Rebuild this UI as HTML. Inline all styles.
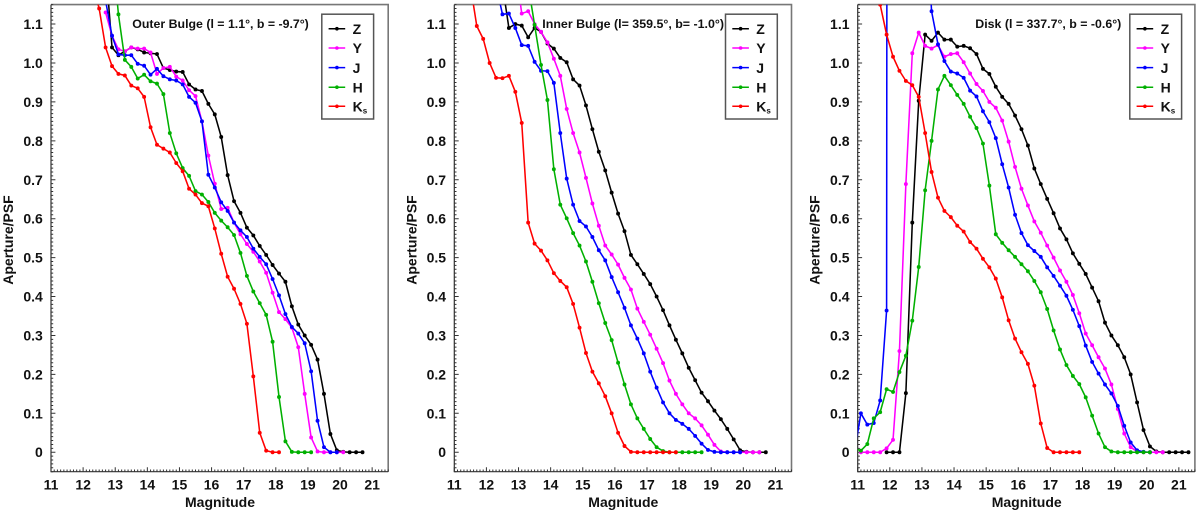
<!DOCTYPE html>
<html lang="en">
<head>
<meta charset="utf-8">
<title>Aperture/PSF vs Magnitude</title>
<style>
html,body{margin:0;padding:0;background:#fff;width:1200px;height:512px;overflow:hidden}
svg{display:block;font-family:"Liberation Sans",sans-serif;font-weight:bold;fill:#111}
</style>
</head>
<body>
<svg id="chart" xmlns="http://www.w3.org/2000/svg" width="1200" height="512" viewBox="0 0 1200 512"></svg>
<script>
var xTickLabels = [11,12,13,14,15,16,17,18,19,20,21];
var yTickValues = [0,0.1,0.2,0.3,0.4,0.5,0.6,0.7,0.8,0.9,1.0,1.1];
var yTickLabels = ['0','0.1','0.2','0.3','0.4','0.5','0.6','0.7','0.8','0.9','1.0','1.1'];
var bandNames = ['Z','Y','J','H','Ks'];
var bandColors = ['#000000','#ff00ff','#0000ff','#00b000','#ff0000'];

var panelTitles = ['Outer Bulge (l = 1.1\u00b0, b = -9.7\u00b0)','Inner Bulge (l= 359.5\u00b0, b= -1.0\u00b0)','Disk (l = 337.7\u00b0, b = -0.6\u00b0)'];

/* first magnitude of each series (bins every 0.2 mag) */
var outerStarts = [12.7,12.7,12.7,12.9,12.3];
var innerStarts = [12.5,12.9,12.3,13.3,11.5];
var diskStarts  = [11.9,11.1,10.9,10.9,11.7];

var outerZ = [1.25,1.04,1.02,1.03,1.04,1.035,1.027,1.025,1.023,0.987,0.982,0.978,0.977,0.945,0.932,0.928,0.895,0.868,0.81,0.712,0.645,0.615,0.577,0.557,0.53,0.507,0.481,0.459,0.438,0.375,0.328,0.30,0.276,0.238,0.15,0.047,0.005,0.001,0,0,0];
var outerY = [1.13,1.07,1.035,1.03,1.04,1.037,1.037,1.027,0.972,0.987,0.99,0.965,0.955,0.93,0.915,0.85,0.762,0.69,0.625,0.628,0.59,0.56,0.535,0.515,0.49,0.461,0.41,0.36,0.342,0.32,0.27,0.15,0.038,0.002,0,0,0,0];
var outerJ = [1.16,1.07,1.022,1.02,1.02,0.998,0.993,0.97,0.985,0.966,0.958,0.955,0.945,0.913,0.898,0.85,0.713,0.68,0.642,0.62,0.59,0.57,0.553,0.523,0.502,0.483,0.445,0.403,0.355,0.322,0.305,0.28,0.208,0.081,0.013,0,0];
var outerH = [1.3,1.125,1.008,0.99,0.96,0.97,0.953,0.947,0.92,0.82,0.768,0.73,0.71,0.671,0.662,0.643,0.615,0.595,0.578,0.558,0.512,0.453,0.413,0.383,0.353,0.284,0.142,0.028,0.001,0,0,0];
var outerK = [1.2,1.14,1.04,0.992,0.972,0.968,0.942,0.935,0.913,0.835,0.79,0.78,0.77,0.743,0.722,0.677,0.662,0.64,0.632,0.575,0.51,0.451,0.42,0.381,0.33,0.195,0.05,0.004,0,0];

var innerZ = [1.2,1.09,1.10,1.096,1.066,1.09,1.08,1.05,1.037,1.013,1.002,0.958,0.942,0.891,0.83,0.772,0.724,0.667,0.613,0.568,0.507,0.483,0.458,0.432,0.40,0.365,0.326,0.289,0.254,0.217,0.185,0.153,0.131,0.107,0.085,0.06,0.033,0.005,0.001,0,0,0];
var innerY = [1.25,1.127,1.133,1.10,1.08,1.053,1.011,0.967,0.882,0.82,0.77,0.705,0.639,0.582,0.531,0.508,0.482,0.448,0.418,0.369,0.335,0.302,0.266,0.229,0.184,0.15,0.123,0.10,0.087,0.069,0.045,0.019,0.002,0,0,0,0,0,0];
var innerJ = [1.2,1.125,1.127,1.09,1.046,1.044,1.003,0.98,0.979,0.949,0.82,0.703,0.636,0.594,0.58,0.553,0.519,0.493,0.45,0.411,0.371,0.326,0.292,0.254,0.207,0.166,0.128,0.10,0.083,0.073,0.06,0.042,0.022,0.006,0.001,0,0,0];
innerJ.push(0);
var innerH = [1.2,1.098,0.995,0.905,0.727,0.636,0.601,0.563,0.531,0.49,0.438,0.383,0.332,0.288,0.23,0.174,0.123,0.087,0.06,0.034,0.013,0.003,0,0,0,0,0,0];
var innerK = [1.2,1.095,1.062,1.0,0.962,0.961,0.967,0.926,0.846,0.59,0.536,0.518,0.493,0.46,0.44,0.424,0.381,0.32,0.255,0.207,0.177,0.144,0.10,0.05,0.016,0.001,0,0,0,0,0,0,0];

var diskZ = [0,0,0,0.152,0.59,0.903,1.073,1.057,1.078,1.06,1.06,1.042,1.044,1.038,1.023,0.985,0.972,0.939,0.913,0.895,0.865,0.83,0.788,0.729,0.689,0.651,0.614,0.575,0.547,0.511,0.484,0.458,0.423,0.388,0.333,0.30,0.275,0.244,0.20,0.128,0.057,0.015,0.002,0,0,0,0,0];
var diskY = [0,0,0,0,0.01,0.032,0.26,0.689,1.025,1.078,1.044,1.037,1.046,1.016,1.023,1.025,1.002,0.973,0.946,0.928,0.90,0.885,0.852,0.798,0.733,0.677,0.634,0.593,0.564,0.531,0.5,0.467,0.438,0.404,0.357,0.305,0.275,0.244,0.215,0.174,0.111,0.048,0.013,0.002,0,0,0,0];
var diskJ = [0,0.10,0.071,0.075,0.133,0.364,20,10,8,6,4,1.45,1.133,1.048,1.005,0.978,0.973,0.962,0.929,0.914,0.876,0.848,0.807,0.74,0.68,0.61,0.563,0.532,0.517,0.502,0.475,0.453,0.428,0.402,0.366,0.324,0.274,0.232,0.202,0.174,0.151,0.119,0.068,0.025,0.005,0.001,0];
var diskH = [0.01,0.004,0.021,0.087,0.103,0.162,0.155,0.206,0.248,0.338,0.476,0.673,0.80,0.932,0.967,0.943,0.918,0.895,0.862,0.833,0.793,0.685,0.56,0.538,0.519,0.502,0.483,0.465,0.44,0.411,0.368,0.313,0.264,0.224,0.196,0.175,0.141,0.094,0.048,0.013,0.002,0,0,0,0,0,0];
var diskK = [1.15,1.073,1.016,0.98,0.954,0.943,0.913,0.82,0.72,0.654,0.62,0.604,0.582,0.567,0.54,0.523,0.497,0.475,0.446,0.398,0.339,0.292,0.257,0.227,0.171,0.074,0.011,0,0,0,0,0];

var outerSeries = [outerZ,outerY,outerJ,outerH,outerK];
var innerSeries = [innerZ,innerY,innerJ,innerH,innerK];
var diskSeries  = [diskZ,diskY,diskJ,diskH,diskK];

var NS = 'http://www.w3.org/2000/svg';
var root = document.getElementById('chart');

function mk(parent, tag, attrs) {
  var el = document.createElementNS(NS, tag);
  for (var k in attrs) { el.setAttribute(k, attrs[k]); }
  parent.appendChild(el);
  return el;
}

var MAG_MIN = 11, MAG_MAX = 21.5, VAL_MIN = -0.05, VAL_MAX = 1.15;
var PLOT_TOP = 4.6, PLOT_BOTTOM = 471.7, PLOT_W = 337.2;

function drawPanel(index, left, titleX, titleLen, starts, series, legendX, panelName) {
  var right = left + PLOT_W;
  function xScale(m) { return left + (m - MAG_MIN) / (MAG_MAX - MAG_MIN) * PLOT_W; }
  function yScale(v) { return PLOT_BOTTOM - (v - VAL_MIN) / (VAL_MAX - VAL_MIN) * (PLOT_BOTTOM - PLOT_TOP); }

  var g = mk(root, 'g', {});
  
  

  var clipId = 'clip-' + index;
  var defs = mk(g, 'defs', {});
  var cp = mk(defs, 'clipPath', {id: clipId});
  mk(cp, 'rect', {x: left, y: PLOT_TOP, width: PLOT_W, height: PLOT_BOTTOM - PLOT_TOP});

  /* frame */
  var frameTR = mk(g, 'path', {d: 'M' + left + ' ' + PLOT_TOP + 'H' + right + 'V' + PLOT_BOTTOM, fill: 'none', stroke: '#777', 'stroke-width': 1.6});
  
  
  var frameLB = mk(g, 'path', {d: 'M' + left + ' ' + PLOT_TOP + 'V' + PLOT_BOTTOM + 'H' + right, fill: 'none', stroke: '#333', 'stroke-width': 1.2});
  
  

  /* minor + major ticks */
  var d = '';
  for (var i = 0; i <= 120; i++) {
    var vv = VAL_MIN + i * 0.01;
    d += 'M' + left + ' ' + yScale(vv).toFixed(2) + 'h2.2';
  }
  for (var j = 0; j <= 105; j++) {
    var mm = MAG_MIN + j * 0.1;
    d += 'M' + xScale(mm).toFixed(2) + ' ' + PLOT_BOTTOM + 'v-2.2';
  }
  yTickValues.forEach(function (v) { d += 'M' + left + ' ' + yScale(v).toFixed(2) + 'h4.4'; });
  xTickLabels.forEach(function (m) { d += 'M' + xScale(m).toFixed(2) + ' ' + PLOT_BOTTOM + 'v-4.4'; });
  var ticks = mk(g, 'path', {d: d, fill: 'none', stroke: '#333', 'stroke-width': 1});
  
  

  /* tick labels */
  yTickValues.forEach(function (v, n) {
    var t = mk(g, 'text', {x: left - 8.2, y: (yScale(v) + 5).toFixed(2), 'text-anchor': 'end', 'font-size': 14});
    
    
    t.textContent = yTickLabels[n];
  });
  xTickLabels.forEach(function (m) {
    var t = mk(g, 'text', {x: xScale(m).toFixed(2), y: 489.5, 'text-anchor': 'middle', 'font-size': 14});
    
    
    t.textContent = m;
  });

  /* axis titles */
  var xt = mk(g, 'text', {x: left + 169, y: 507, 'text-anchor': 'middle', 'font-size': 14});
  
  
  xt.textContent = 'Magnitude';
  var yAxisX = left - 38;
  var yt = mk(g, 'text', {x: yAxisX, y: 240, 'text-anchor': 'middle', 'font-size': 14, transform: 'rotate(-90 ' + yAxisX + ' 240)'});
  
  
  yt.textContent = 'Aperture/PSF';

  /* series */
  var plot = mk(g, 'g', {'clip-path': 'url(#' + clipId + ')'});
  series.forEach(function (vals, s) {
    var sg = mk(plot, 'g', {});
    
    
    var pts = vals.map(function (v, n) {
      return xScale(starts[s] + n * 0.2).toFixed(2) + ',' + yScale(v).toFixed(2);
    });
    var line = mk(sg, 'polyline', {points: pts.join(' '), fill: 'none', stroke: bandColors[s], 'stroke-width': 1.55, 'stroke-linejoin': 'round'});
    
    
    vals.forEach(function (v, n) {
      var c = mk(sg, 'circle', {cx: xScale(starts[s] + n * 0.2).toFixed(2), cy: yScale(v).toFixed(2), r: 1.95, fill: bandColors[s]});
      
      
    });
  });

  /* panel title */
  var title = mk(g, 'text', {x: titleX, y: 28, 'font-size': 12, textLength: titleLen, lengthAdjust: 'spacingAndGlyphs'});
  
  
  title.textContent = panelTitles[index];

  /* legend */
  var lg = mk(g, 'g', {});
  
  
  var box = mk(lg, 'rect', {x: legendX, y: 14.2, width: 51.8, height: 104.8, fill: '#fff', stroke: '#555', 'stroke-width': 1.5});
  
  
  var rowY = [28.7, 48, 67.6, 87.2, 106.3];
  bandNames.forEach(function (name, s) {
    var e = mk(lg, 'g', {});
    
    
    mk(e, 'line', {x1: legendX + 6.8, x2: legendX + 23.4, y1: rowY[s], y2: rowY[s], stroke: bandColors[s], 'stroke-width': 1.5});
    mk(e, 'circle', {cx: legendX + 15.1, cy: rowY[s], r: 1.8, fill: bandColors[s]});
    var t = mk(e, 'text', {x: legendX + 30.8, y: rowY[s] + 5.2, 'font-size': 14});
    if (name === 'Ks') {
      t.textContent = 'K';
      var sub = mk(t, 'tspan', {'font-size': 8, dy: 2});
      sub.textContent = 's';
    } else {
      t.textContent = name;
    }
  });
}

drawPanel(0, 51, 132.3, 176.5, outerStarts, outerSeries, 321.8, 'outer-bulge');
drawPanel(1, 454.3, 542.3, 181.7, innerStarts, innerSeries, 725.5, 'inner-bulge');
drawPanel(2, 857.7, 975.3, 146, diskStarts, diskSeries, 1129.8, 'disk');
</script>
</body>
</html>
